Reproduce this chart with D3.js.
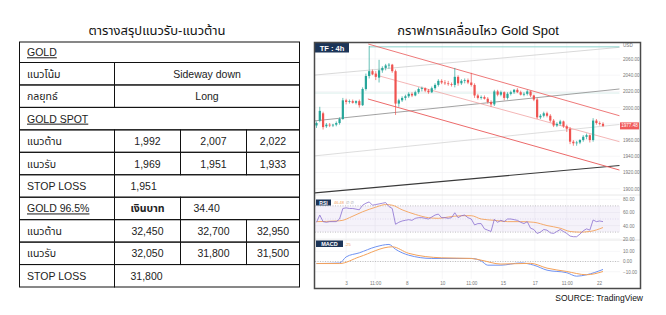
<!DOCTYPE html>
<html lang="th">
<head>
<meta charset="utf-8">
<title>Gold</title>
<style>
  body { margin: 0; background: #fff; }
  svg { display: block; font-family: "Liberation Sans", Arial, "Noto Sans Thai", "Noto Sans", "DejaVu Sans", sans-serif; }
  .cell { fill: none; stroke: #111; stroke-width: 1; }
  .tbl { font-size: 10.5px; fill: #222; }
  .grid line { stroke: #f0f0f4; stroke-width: 0.6; }
</style>
</head>
<body>
<div id="chart"></div>
<script src="https://cdn.jsdelivr.net/npm/d3@7"></script>
<script>
// ---- table values
var goldTrend = "Sideway down",
    goldStrategy = "Long",
    spotResist = ["1,992", "2,007", "2,022"],
    spotSupport = ["1,969", "1,951", "1,933"],
    spotStop = "1,951",
    bahtPrice = "34.40",
    barResist = ["32,450", "32,700", "32,950"],
    barSupport = ["32,050", "31,800", "31,500"],
    barStop = "31,800";

// ---- 4h candles (USD)
var open  = [1978,1984,1993,1977,1979,1978,1979,1981,1986,2009,2007,2008,2006,2008,2003,2023,2039,2045,2042,2037,2046,2049,2052,2053,2045,2005,2009,2012,2014,2017,2015,2019,2023,2024,2021,2019,2024,2028,2033,2031,2030,2029,2028,2038,2030,2033,2034,2031,2028,2015,2012,2013,2011,2007,2004,2020,2016,2019,2012,2017,2019,2022,2019,2016,2017,2020,2015,2010,1988,1990,1993,1990,1984,1978,1980,1983,1977,1974,1958,1956,1957,1960,1964,1966,1960,1984,1981,1980];
var high  = [1983,2001,1995,1981,1981,1980,1983,1988,2012,2011,2010,2010,2009,2010,2025,2042,2076,2047,2045,2059,2051,2054,2055,2054,2047,2011,2014,2016,2019,2019,2021,2025,2026,2025,2023,2026,2030,2035,2035,2034,2033,2031,2049,2040,2035,2036,2036,2043,2030,2017,2015,2015,2013,2009,2022,2022,2021,2020,2019,2021,2023,2024,2021,2019,2022,2021,2016,2012,1992,1995,1995,1992,1986,1982,1985,1984,1979,1976,1960,1959,1961,1966,1968,1967,1987,1986,1983,1982];
var low   = [1975,1982,1973,1975,1976,1976,1977,1979,1985,2004,2005,2005,2004,2000,2002,2021,2036,2040,2034,2031,2043,2046,2048,2043,1991,2001,2007,2009,2012,2013,2014,2017,2020,2019,2017,2018,2022,2026,2029,2028,2027,2026,2025,2027,2028,2030,2029,2026,2012,2010,2010,2010,2005,2001,2002,2014,2014,2009,2010,2015,2017,2018,2015,2014,2015,2013,2008,1986,1986,1988,1988,1982,1976,1976,1978,1975,1970,1955,1953,1953,1955,1958,1961,1957,1958,1979,1978,1976];
var close = [1981,1996,1976,1979,1978,1979,1981,1986,2009,2007,2008,2006,2008,2003,2023,2039,2045,2041,2038,2046,2049,2052,2053,2045,2005,2009,2012,2014,2017,2015,2019,2023,2024,2021,2019,2024,2028,2033,2031,2030,2029,2028,2038,2030,2033,2034,2031,2028,2015,2012,2013,2011,2007,2004,2020,2016,2019,2012,2017,2019,2022,2019,2016,2017,2020,2015,2010,1988,1990,1993,1990,1984,1978,1980,1983,1977,1974,1958,1956,1957,1960,1964,1966,1960,1984,1981,1980,1977.5];
var lastPrice = "1977.48";

var timeIdx = [9, 17.8, 27.4, 38.2, 47, 56.6, 66.3, 76, 85.8];
var timeLabels = ["3", "11:00", "8", "10", "11:00", "15", "17", "11:00", "22"];
var priceTicks = [1900, 1920, 1940, 1960, 1980, 2000, 2020, 2040, 2060];

// drawn lines, [candle index, price]
var risingLines = [
  [[-1, 2040], [92, 2074.4]],
  [[-1, 1983.5], [92, 2023]],
  [[-1, 1940.3], [92, 1979.2]],
  [[-1, 1894.7], [92, 1928.6]]
];
var fallingLines = [
  [[15.7, 2078.5], [92, 1990]],
  [[18.6, 2039.6], [92, 1958]],
  [[15.6, 2010.7], [92, 1923]]
];
var highLine = [[16, 2075], [92, 2075]];
var flatLine = [[-1, 2018], [92, 2018]];

// ---- indicators
var rsiVals = [45,56,46,45,46,46,46,50,66,67,66,66,65,64,71,74,76,71,72,73,74,75,69,66,42,45,47,48,49,48,51,52,52,51,50,53,56,57.5,52,52,51,52,59.5,52,55,56,52,50,41,43,43,35,33,31,49.5,45,48,46,50,50,49,48,45,43,46,36,34,28,30,34,33,29,28,31,34,31,28,24,23,23,27,32,35,33,48.5,46,47,46];
var rsiMa = [[0,46],[6,47],[8,48],[10,52],[14,61],[18,68],[21,72],[23,71],[26,64],[30,57],[34,52],[37,51],[40,53],[44,55],[47,55],[50,50],[54,48],[58,46],[62,46],[66,45],[70,40],[74,36],[77,31],[80,30],[83,31],[87,37]];
var macdLine = [[0,-2],[7,-1.5],[9,4.5],[13,8.5],[18,14.4],[22,16.7],[24,12],[28,6.2],[35,3],[47,3],[50,0.6],[52,-3.6],[56,-3.6],[62,-1.4],[66,-3.6],[70,-8.5],[76,-11],[79,-14.4],[82,-13],[87,-7.8]];
var signalLine = [[0,-2],[7,-2],[13,4.5],[23,14.4],[28,8],[38,3.6],[47,3],[50,1.3],[56,-2.5],[65,-1.8],[70,-6.5],[76,-9.8],[82,-13],[87,-9.8]];
var rsiTicks = [20, 40, 60, 80], macdTicks = [-10, 0, 10];

var width = 666, height = 315;

var svg = d3.select("#chart").append("svg")
    .attr("width", width)
    .attr("height", height);

svg.append("rect").attr("width", width).attr("height", height).attr("fill", "#fff");

// ================= TABLE
svg.append("text")
    .attr("x", 157).attr("y", 35)
    .attr("text-anchor", "middle")
    .style("font-size", "13px").attr("fill", "#111")
    .text("ตารางสรุปแนวรับ-แนวต้าน");

var colX = [19.5, 114.5, 180.5, 246.5, 299.5];
var rowY = d3.range(12).map(function(k) { return k === 0 ? 42 : 62.5 + (k - 1) * 22.45; });

function vals(arr) {
  return arr.map(function(v, k) { return {c0: k + 1, c1: k + 2, t: v, a: "middle"}; });
}
var rows = [
  [{c0: 0, c1: 4, t: "GOLD", ul: true}],
  [{c0: 0, c1: 1, t: "แนวโน้ม"}, {c0: 1, c1: 4, t: goldTrend, a: "middle"}],
  [{c0: 0, c1: 1, t: "กลยุทธ์"}, {c0: 1, c1: 4, t: goldStrategy, a: "middle"}],
  [{c0: 0, c1: 4, t: "GOLD SPOT", ul: true}],
  [{c0: 0, c1: 1, t: "แนวต้าน"}].concat(vals(spotResist)),
  [{c0: 0, c1: 1, t: "แนวรับ"}].concat(vals(spotSupport)),
  [{c0: 0, c1: 1, t: "STOP LOSS"}, {c0: 1, c1: 4, t: spotStop, pad: 16}],
  [{c0: 0, c1: 1, t: "GOLD 96.5%", ul: true}, {c0: 1, c1: 2, t: "เงินบาท", a: "middle", b: true}, {c0: 2, c1: 4, t: bahtPrice, pad: 13}],
  [{c0: 0, c1: 1, t: "แนวต้าน"}].concat(vals(barResist)),
  [{c0: 0, c1: 1, t: "แนวรับ"}].concat(vals(barSupport)),
  [{c0: 0, c1: 1, t: "STOP LOSS"}, {c0: 1, c1: 4, t: barStop, pad: 16}]
];

var tbl = svg.append("g");
rows.forEach(function(row, r) {
  var y0 = rowY[r], y1 = rowY[r + 1];
  row.forEach(function(c) {
    tbl.append("rect").attr("class", "cell")
        .attr("x", colX[c.c0]).attr("y", y0)
        .attr("width", colX[c.c1] - colX[c.c0]).attr("height", y1 - y0);
    var tx = c.a === "middle" ? (colX[c.c0] + colX[c.c1]) / 2 : colX[c.c0] + (c.pad || 7.5);
    tbl.append("text").attr("class", "tbl")
        .attr("x", tx).attr("y", (y0 + y1) / 2 + 4)
        .attr("text-anchor", c.a === "middle" ? "middle" : "start")
        .style("text-decoration", c.ul ? "underline" : null)
        .style("font-weight", c.b ? "bold" : null)
        .text(c.t);
  });
});

// ================= CHART
svg.append("text")
    .attr("x", 478).attr("y", 35)
    .attr("text-anchor", "middle")
    .style("font-size", "13px").attr("fill", "#111")
    .text("กราฟการเคลื่อนไหว Gold Spot");

var plotL = 315, plotR = 620,
    mainTop = 42.5, mainBot = 195,
    rsiTop = 195, rsiBot = 240,
    macdTop = 240, macdBot = 279;

var x = d3.scaleLinear().domain([0, 87]).range([316.5, 603]);
var y = d3.scaleLinear().domain([1900, 2060]).range([188.7, 59]);
var yRsi = d3.scaleLinear().domain([20, 80]).range([238.7, 199.3]);
var yMacd = d3.scaleLinear().domain([-10, 10]).range([271.7, 251.3]);

var defs = svg.append("defs");
function clip(id, t, b) {
  defs.append("clipPath").attr("id", id).append("rect")
      .attr("x", plotL).attr("y", t).attr("width", plotR - plotL).attr("height", b - t);
}
clip("cMain", mainTop, mainBot);
clip("cRsi", rsiTop, rsiBot);
clip("cMacd", macdTop, macdBot);

// grid
var grid = svg.append("g").attr("class", "grid");
grid.selectAll(".v").data(timeIdx).enter().append("line")
    .attr("x1", function(d) { return x(d); }).attr("x2", function(d) { return x(d); })
    .attr("y1", mainTop).attr("y2", macdBot);
grid.selectAll(".h").data(priceTicks).enter().append("line")
    .attr("x1", plotL).attr("x2", plotR)
    .attr("y1", function(d) { return y(d); }).attr("y2", function(d) { return y(d); });
grid.selectAll(".hr").data(rsiTicks).enter().append("line")
    .attr("x1", plotL).attr("x2", plotR)
    .attr("y1", function(d) { return yRsi(d); }).attr("y2", function(d) { return yRsi(d); });
grid.selectAll(".hm").data(macdTicks).enter().append("line")
    .attr("x1", plotL).attr("x2", plotR)
    .attr("y1", function(d) { return yMacd(d); }).attr("y2", function(d) { return yMacd(d); });

// pane separators
[rsiTop, macdTop].forEach(function(py) {
  svg.append("line").attr("x1", plotL).attr("x2", 640).attr("y1", py).attr("y2", py)
      .attr("stroke", "#e2e2e2").attr("stroke-width", 0.8);
});

// main pane
var main = svg.append("g").attr("clip-path", "url(#cMain)");
function seg(g, pts, color, w) {
  g.append("line")
      .attr("x1", x(pts[0][0])).attr("y1", y(pts[0][1]))
      .attr("x2", x(pts[1][0])).attr("y2", y(pts[1][1]))
      .attr("stroke", color).attr("stroke-width", w);
}
seg(main, flatLine, "#cfe9e6", 0.8);
seg(main, risingLines[0], "#c9c9c9", 0.7);
seg(main, risingLines[1], "#8a8a8a", 0.8);
seg(main, risingLines[2], "#cfcfcf", 0.7);
seg(main, risingLines[3], "#3a3a3a", 1.1);
seg(main, highLine, "#7fcfc6", 0.9);
seg(main, fallingLines[0], "#ec6a6a", 0.9);
seg(main, fallingLines[1], "#f1a3a3", 0.8);
seg(main, fallingLines[2], "#ec6a6a", 1);

var candles = open.map(function(o, i) {
  return {i: i, o: o, h: high[i], l: low[i], c: close[i]};
});
var cg = main.selectAll(".candle").data(candles).enter().append("g")
    .attr("fill", function(d) { return d.c >= d.o ? "#26a69a" : "#ef5350"; })
    .attr("stroke", function(d) { return d.c >= d.o ? "#26a69a" : "#ef5350"; });
cg.append("line")
    .attr("x1", function(d) { return x(d.i); }).attr("x2", function(d) { return x(d.i); })
    .attr("y1", function(d) { return y(d.h); }).attr("y2", function(d) { return y(d.l); })
    .attr("stroke-width", 0.7);
cg.append("rect")
    .attr("stroke", "none")
    .attr("x", function(d) { return x(d.i) - 1.1; })
    .attr("width", 2.2)
    .attr("y", function(d) { return y(Math.max(d.o, d.c)); })
    .attr("height", function(d) { return Math.max(0.7, Math.abs(y(d.o) - y(d.c))); });

// TF label
svg.append("rect").attr("x", 315).attr("y", 43).attr("width", 34).attr("height", 9.5).attr("fill", "#1c3558");
svg.append("text").attr("x", 332).attr("y", 50.6).attr("text-anchor", "middle")
    .style("font-size", "7.5px").style("font-weight", "bold").attr("fill", "#fff").text("TF : 4h");

// RSI pane
var rsiG = svg.append("g").attr("clip-path", "url(#cRsi)");
rsiG.append("rect").attr("x", plotL).attr("width", plotR - plotL)
    .attr("y", yRsi(70)).attr("height", yRsi(30) - yRsi(70))
    .attr("fill", "#7e57c2").attr("opacity", 0.08);
[70, 50, 30].forEach(function(v) {
  rsiG.append("line").attr("x1", plotL).attr("x2", plotR).attr("y1", yRsi(v)).attr("y2", yRsi(v))
      .attr("stroke", v === 50 ? "#d8d0ea" : "#aaa").attr("stroke-width", 0.7).attr("stroke-dasharray", "1,1.5");
});
rsiG.append("path").datum(rsiMa)
    .attr("fill", "none").attr("stroke", "#f4a25a").attr("stroke-width", 0.9)
    .attr("d", d3.line().x(function(d) { return x(d[0]); }).y(function(d) { return yRsi(d[1]); }).curve(d3.curveMonotoneX));
rsiG.append("path").datum(rsiVals)
    .attr("fill", "none").attr("stroke", "#8a6fd0").attr("stroke-width", 0.8)
    .attr("d", d3.line().x(function(d, i) { return x(i); }).y(function(d) { return yRsi(d); }));

svg.append("rect").attr("x", 316).attr("y", 199.5).attr("width", 15).attr("height", 6).attr("fill", "#1c3558");
svg.append("text").attr("x", 323.5).attr("y", 204.6).attr("text-anchor", "middle")
    .style("font-size", "5px").style("font-weight", "bold").attr("fill", "#fff").text("RSI");
svg.append("text").attr("x", 334).attr("y", 204.4)
    .style("font-size", "4px").attr("fill", "#f4a25a").text("46.48");
svg.append("text").attr("x", 346).attr("y", 204.4)
    .style("font-size", "4px").attr("fill", "#999").text("∅ ∅");

// MACD pane
var macdG = svg.append("g").attr("clip-path", "url(#cMacd)");
macdG.append("line").attr("x1", plotL).attr("x2", plotR).attr("y1", yMacd(0)).attr("y2", yMacd(0))
    .attr("stroke", "#aaa").attr("stroke-width", 0.7).attr("stroke-dasharray", "1,1.5");
var mLine = d3.line().x(function(d) { return x(d[0]); }).y(function(d) { return yMacd(d[1]); }).curve(d3.curveMonotoneX);
macdG.append("path").datum(macdLine)
    .attr("fill", "none").attr("stroke", "#6f92f2").attr("stroke-width", 1).attr("d", mLine);
macdG.append("path").datum(signalLine)
    .attr("fill", "none").attr("stroke", "#f4a25a").attr("stroke-width", 1).attr("d", mLine);

svg.append("rect").attr("x", 316).attr("y", 240.5).attr("width", 27).attr("height", 6.5).attr("fill", "#1c3558");
svg.append("text").attr("x", 329.5).attr("y", 245.8).attr("text-anchor", "middle")
    .style("font-size", "5.5px").style("font-weight", "bold").attr("fill", "#fff").text("MACD");
svg.append("text").attr("x", 345).attr("y", 245.6)
    .style("font-size", "4px").attr("fill", "#f4a25a").text("-25");

// right scales (the 1980 label sits under the last-price tag)
function rightAxis(scale, ticks) {
  var g = svg.append("g").attr("transform", "translate(621,0)")
      .call(d3.axisRight(scale).tickValues(ticks).tickFormat(d3.format(".2f")).tickSize(0).tickPadding(2));
  g.select(".domain").remove();
  g.selectAll("text").style("font-size", "4.6px").attr("fill", "#777");
}
rightAxis(y, priceTicks.filter(function(d) { return d !== 1980; }));
rightAxis(yRsi, rsiTicks);
rightAxis(yMacd, macdTicks);
svg.append("text").attr("x", 623).attr("y", 47.3).style("font-size", "4.6px").attr("fill", "#777").text("USD");

// last price tag
svg.append("rect").attr("x", 620).attr("y", y(1977.48) - 3.5).attr("width", 19).attr("height", 7).attr("fill", "#f05a5a");
svg.append("text").attr("x", 629.5).attr("y", y(1977.48) + 1.6).attr("text-anchor", "middle")
    .style("font-size", "4.6px").attr("fill", "#fff").text(lastPrice);

// time axis
var xa = svg.append("g").attr("transform", "translate(0," + 282 + ")")
    .call(d3.axisBottom(x).tickValues(timeIdx).tickFormat(function(d, k) { return timeLabels[k]; }).tickSize(0).tickPadding(0));
xa.select(".domain").remove();
xa.selectAll("text").style("font-size", "4.6px").attr("fill", "#777");

// frame
svg.append("rect").attr("x", 314.5).attr("y", 42.5).attr("width", 326).attr("height", 246)
    .attr("fill", "none").attr("stroke", "#4a4a4a").attr("stroke-width", 1.5);

svg.append("text").attr("x", 643).attr("y", 300.5).attr("text-anchor", "end")
    .style("font-size", "8.5px").attr("fill", "#111").text("SOURCE: TradingView");
</script>
</body>
</html>
